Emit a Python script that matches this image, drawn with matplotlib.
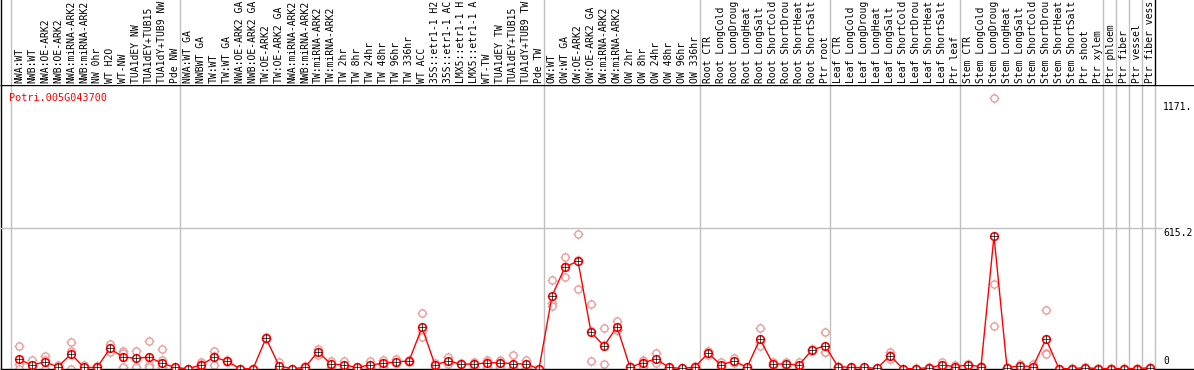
import numpy as np
import matplotlib
matplotlib.use("Agg")
import matplotlib.pyplot as plt
import matplotlib.transforms as mtransforms

plt.rcParams['font.family'] = ['DejaVu Sans Mono']
plt.rcParams['font.size'] = 7.0

gene = "Potri.005G043700"

# condition labels, as far as the strip shows them
labels = [
    # NW
    "NWA:WT", "NWB:WT", "NWA:OE-ARK2", "NWB:OE-ARK2", "NWA:miRNA-ARK2", "NWB:miRNA-ARK2",
    "NW 0hr", "WT H2O", "WT-NW", "TUA1dEY NW", "TUA1dEY+TUB15", "TUA1dY+TUB9 NW", "Pde NW",
    # TW
    "NWA:WT GA", "NWBWT GA", "TW:WT", "TW:WT GA", "NWA:OE-ARK2 GA", "NWB:OE-ARK2 GA",
    "TW:OE-ARK2", "TW:OE-ARK2 GA", "NWA:miRNA-ARK2", "NWB:miRNA-ARK2", "TW:miRNA-ARK2",
    "TW:miRNA-ARK2", "TW 2hr", "TW 8hr", "TW 24hr", "TW 48hr", "TW 96hr", "TW 336hr",
    "WT ACC", "35S::etr1-1 H2", "35S::etr1-1 AC", "LMX5::etr1-1 H", "LMX5::etr1-1 A",
    "WT-TW", "TUA1dEY TW", "TUA1dEY+TUB15", "TUA1dY+TUB9 TW", "Pde TW",
    # OW
    "OW:WT", "OW:WT GA", "OW:OE-ARK2", "OW:OE-ARK2 GA", "OW:miRNA-ARK2", "OW:miRNA-ARK2",
    "OW 2hr", "OW 8hr", "OW 24hr", "OW 48hr", "OW 96hr", "OW 336hr",
    # root
    "Root CTR", "Root LongCold", "Root LongDroug", "Root LongHeat", "Root LongSalt",
    "Root ShortCold", "Root ShortDrou", "Root ShortHeat", "Root ShortSalt", "Ptr root",
    # leaf
    "Leaf CTR", "Leaf LongCold", "Leaf LongDroug", "Leaf LongHeat", "Leaf LongSalt",
    "Leaf ShortCold", "Leaf ShortDrou", "Leaf ShortHeat", "Leaf ShortSalt", "Ptr leaf",
    # stem
    "Stem CTR", "Stem LongCold", "Stem LongDroug", "Stem LongHeat", "Stem LongSalt",
    "Stem ShortCold", "Stem ShortDrou", "Stem ShortHeat", "Stem ShortSalt",
    "Ptr shoot", "Ptr xylem",
    "Ptr phloem", "Ptr fiber", "Ptr vessel", "Ptr fiber vess",
]
group_sizes = [13, 28, 12, 10, 10, 11, 1, 1, 1, 1]

mean = [
    44, 17, 32, 9, 69, 6, 6, 94, 54, 49, 54, 26, 6,
    0, 18, 53, 36, 0, 0, 142, 14, 0, 7, 79, 22, 18, 6, 18, 25, 32, 36, 192, 18, 36,
    22, 21, 28, 28, 24, 22, 0,
    337, 472, 499, 170, 106, 195, 7, 28, 45, 6, 2, 8,
    72, 18, 36, 6, 138, 22, 22, 18, 87, 107,
    10, 6, 6, 2, 61, 0, 1, 5, 18, 10,
    18, 10, 615.2, 5, 14, 10, 138, 0, 1, 5, 1,
    1, 1, 1, 5,
]
rep1 = [
    104, 39, 59, 18, 126, 18, 11, 116, 82, 82, 129, 92, 10,
    0, 30, 82, 42, 0, 0, 147, 30, 0, 15, 92, 36, 36, 10, 36, 41, 45, 40, 257, 26, 55,
    26, 30, 41, 41, 64, 42, 0,
    411, 517, 625, 300, 188, 223, 11, 41, 72, 10, 4, 12,
    82, 30, 49, 10, 188, 33, 33, 33, 92, 169,
    14, 10, 10, 4, 76, 0, 2, 8, 33, 18,
    21, 14, 1255, 8, 21, 21, 272, 0, 2, 8, 2,
    2, 2, 2, 8,
]
rep2 = [
    21, 13, 43, 4, 82, 0, 0, 92, 72, 49, 18, 41, 4,
    0, 20, 58, 36, 0, 0, 142, 8, 0, 4, 79, 20, 13, 5, 16, 24, 26, 36, 175, 18, 32,
    20, 25, 33, 33, 6, 22, 0,
    303, 474, 504, 174, 109, 182, 10, 33, 38, 5, 2, 8,
    69, 14, 30, 5, 124, 18, 20, 12, 87, 76,
    10, 5, 5, 2, 62, 0, 1, 5, 12, 8,
    18, 10, 391, 5, 12, 6, 75, 0, 1, 5, 1,
    1, 1, 1, 5,
]
rep3 = [
    0, 0, 0, 0, 0, 0, 0, 78, 10, 10, 10, 10, 0,
    0, 4, 18, 30, 0, 0, 137, 4, 0, 0, 64, 10, 5, 3, 2, 10, 25, 32, 149, 10, 21,
    20, 8, 10, 10, 2, 2, 0,
    291, 424, 368, 36, 21, 180, 0, 10, 25, 3, 0, 4,
    65, 10, 29, 3, 107, 15, 13, 9, 82, 76,
    6, 3, 3, 0, 45, 0, 0, 2, 9, 4,
    15, 6, 198, 2, 9, 3, 67, 0, 0, 2, 0,
    0, 0, 0, 2,
]
axis_labels = ["1171.", "615.2", "0"]
axis_values = [1171, 615.2, 0]

x = np.arange(len(labels))
bounds = np.concatenate([[0], np.cumsum(group_sizes)]) - 8 / 13
grey = "#c0c0c0"
pale = "#eb9a9a"

W, H = 1194, 370
fig = plt.figure(figsize=(W / 100, H / 100), dpi=100)
ax = fig.add_axes([1 / W, 1 / H, 1193 / W, 284 / H])
top = fig.add_axes([1 / W, 285 / H, 1193 / W, 85 / H])

xlim = (-18 / 13, 1175 / 13)
for a in (ax, top):
    a.set_xlim(*xlim)
    a.set_xticks([])
    a.set_yticks([])
    for s in a.spines.values():
        s.set_linewidth(1.0)
        s.set_color("black")

# label strip
top.set_ylim(0, 1)
top.spines["top"].set_visible(False)
top.spines["right"].set_visible(False)
top.spines["bottom"].set_visible(False)
for b in bounds[:-1]:
    top.axvline(b, color=grey, lw=1)
top.axvline(bounds[-1], color="black", lw=1)
tr = mtransforms.blended_transform_factory(top.transData, top.transAxes)
for xi, lab in zip(x, labels):
    top.text(xi, 0.025, lab, rotation=90, rotation_mode="anchor",
             ha="left", va="center", transform=tr)

# plot area
ax.set_ylim(-1, 1315)
ax.spines["right"].set_visible(False)
for b in bounds:
    ax.axvline(b, color=grey, lw=1, zorder=0)

lab = ax.twinx()
lab.set_ylim(-8.85, 1248.3)
lab.set_yticks([])
for s in lab.spines.values():
    s.set_visible(False)
lab.axhline(615.2, xmin=0, xmax=1161 / 1193, color=grey, lw=1, zorder=0)
ytr = mtransforms.blended_transform_factory(lab.transAxes, lab.transData)
for t, v in zip(axis_labels, axis_values):
    lab.text(1162 / 1193, v + (0 if v else 4), t, transform=ytr,
             ha="left", va="bottom" if v == 0 else "top")

ax.text(8 / 1193, 0.972, gene, color="red", fontsize=7.3,
        transform=ax.transAxes, ha="left", va="top")

for r in (rep1, rep2, rep3):
    ax.plot(x, r, ls="none", marker="+", ms=7.2, mew=0.7, color=pale, zorder=2, clip_on=False)
    ax.plot(x, r, ls="none", marker="o", ms=5.2, mew=1.0, mfc="white", mec=pale,
            zorder=2, clip_on=False)

ax.plot(x, mean, color="red", lw=1.0, zorder=3, clip_on=False)
ax.plot(x, mean, ls="none", marker="o", ms=5.5, mew=1.2, mfc="white", mec="red",
        zorder=4, clip_on=False)
ax.plot(x, mean, ls="none", marker="+", ms=6.0, mew=0.5, color="black", zorder=5, clip_on=False)

fig.savefig("out.png", dpi=100)
